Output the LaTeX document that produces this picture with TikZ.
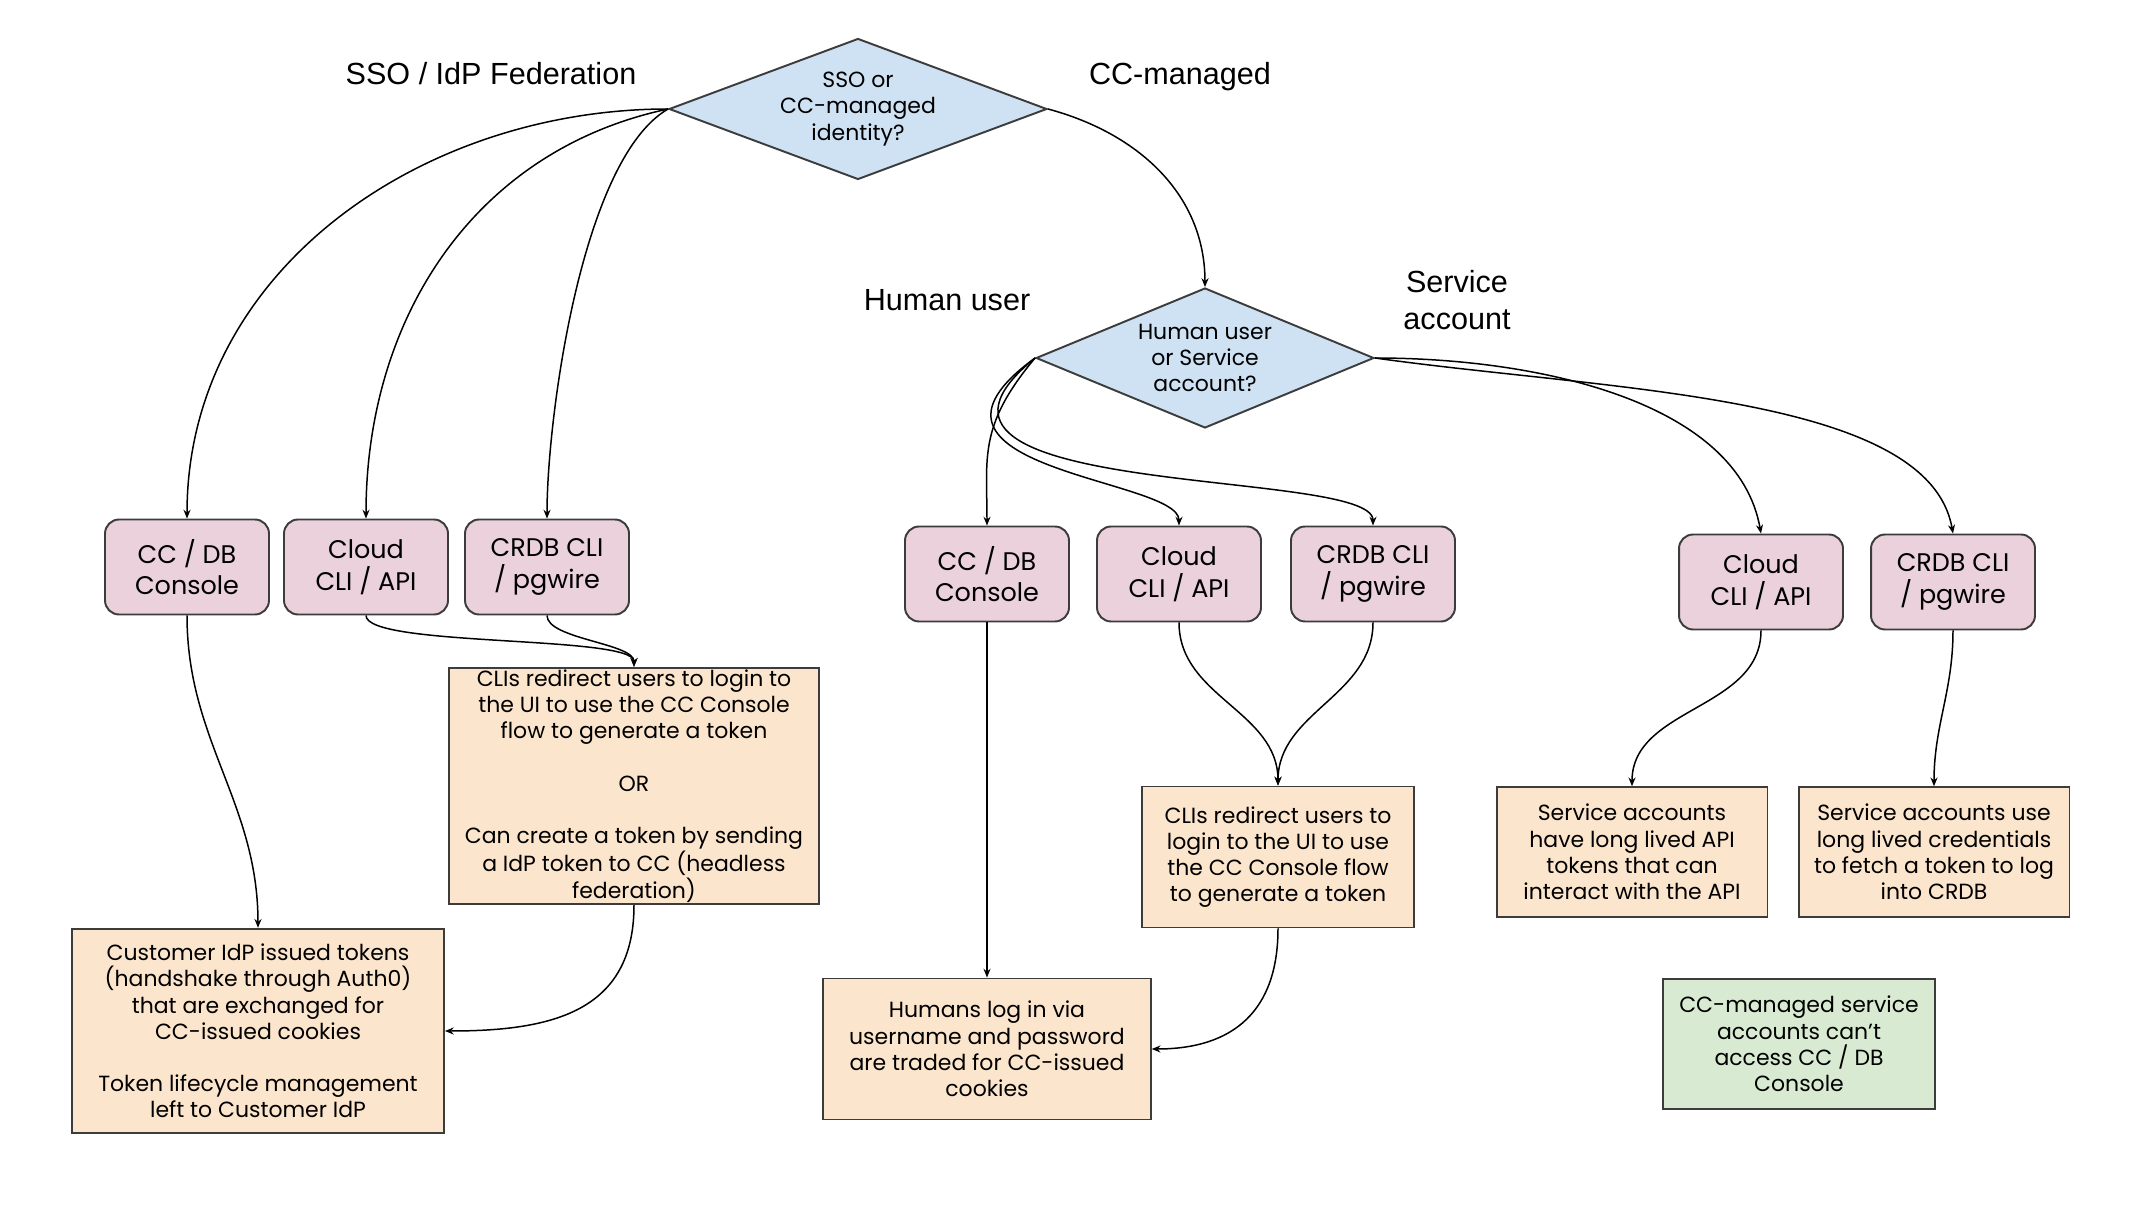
\documentclass[tikz,border=0pt]{standalone}
\usepackage{fontspec}
\setmainfont{Liberation Sans}
\newfontfamily\popfont{Poppins}
\usetikzlibrary{shapes.geometric,arrows.meta}
\definecolor{linegray}{HTML}{3C3C3C}
\definecolor{askblue}{HTML}{CFE2F3}
\definecolor{chanpink}{HTML}{EAD1DC}
\definecolor{flowtan}{HTML}{FCE5CD}
\definecolor{notegreen}{HTML}{D9EAD3}
\begin{document}
\begin{tikzpicture}[x = 0.02cm, y = 0.02cm, line width = 0.85pt,
                      >={Stealth[length=5pt, width=4pt]},
                      question/.style = {diamond, draw = linegray, fill = askblue, line width = 1.1pt, aspect = 2.7,
                                         inner sep = 0pt, align = center, font = \popfont\fontsize{12.5}{14.9}\selectfont},
                      channel/.style = {rectangle, rounded corners = 8pt, draw = linegray, fill = chanpink, line width = 1.1pt,
                                        minimum width = 3.28cm, minimum height = 1.9cm, align = center,
                                        font = \popfont\fontsize{14.5}{18}\selectfont},
                      flow/.style = {rectangle, draw = linegray, fill = flowtan, line width = 1.1pt, inner sep = 0pt,
                                     align = center, font = \popfont\fontsize{12.5}{14.9}\selectfont},
                      caveat/.style = {flow, fill = notegreen},
                      branch/.style = {align = center, font = \fontsize{17.4}{20.6}\selectfont}]
    \useasboundingbox [fill = white] (0, 0) rectangle (2134, -1212);

    \node [question, minimum width = 7.56cm, minimum height = 2.82cm] (d1) at (858, -109) {SSO or\\CC-managed\\identity?};
    \node [question, minimum width = 6.76cm, minimum height = 2.8cm] (d2) at (1205, -358) {Human user\\or Service\\account?};

    \node [branch] (l1) at (491, -74) {SSO / IdP Federation};
    \node [branch] (l2) at (1180, -77) {CC-managed};
    \node [branch] (l3) at (947, -300) {Human user};
    \node [branch] (l4) at (1457, -300) {Service\\account};

    \node [channel] (p1) at (187, -567) {CC / DB\\Console};
    \node [channel] (p2) at (366, -567) {Cloud\\CLI / API};
    \node [channel] (p3) at (547, -567) {CRDB CLI\\/ pgwire};
    \node [channel] (p4) at (987, -574) {CC / DB\\Console};
    \node [channel] (p5) at (1179, -574) {Cloud\\CLI / API};
    \node [channel] (p6) at (1373, -574) {CRDB CLI\\/ pgwire};
    \node [channel] (p7) at (1761, -582) {Cloud\\CLI / API};
    \node [channel] (p8) at (1953, -582) {CRDB CLI\\/ pgwire};

    \node [flow, minimum width = 7.4cm, minimum height = 4.73cm] (o1) at (634, -786)
        {CLIs redirect users to login to\\the UI to use the CC Console\\flow to generate a token\\[14.9pt]OR\\[14.9pt]Can create a token by sending\\a IdP token to CC (headless\\federation)};
    \node [flow, minimum width = 7.44cm, minimum height = 4.09cm] (o2) at (258, -1031)
        {Customer IdP issued tokens\\(handshake through Auth0)\\that are exchanged for\\CC-issued cookies\\[14.9pt]Token lifecycle management\\left to Customer IdP};
    \node [flow, minimum width = 6.55cm, minimum height = 2.82cm] (o3) at (987, -1049)
        {Humans log in via\\username and password\\are traded for CC-issued\\cookies};
    \node [flow, minimum width = 5.45cm, minimum height = 2.82cm] (o4) at (1278, -857)
        {CLIs redirect users to\\login to the UI to use\\the CC Console flow\\to generate a token};
    \node [flow, minimum width = 5.42cm, minimum height = 2.59cm] (o5) at (1632, -852)
        {Service accounts\\have long lived API\\tokens that can\\interact with the API};
    \node [flow, minimum width = 5.42cm, minimum height = 2.59cm] (o6) at (1934, -852)
        {Service accounts use\\long lived credentials\\to fetch a token to log\\into CRDB};
    \node [caveat, minimum width = 5.45cm, minimum height = 2.6cm] (g1) at (1799, -1044)
        {CC-managed service\\accounts can’t\\access CC / DB\\Console};

    \draw [->] (d1.west) to [out=180, in=90] (p1.north);
    \draw [->] (d1.west) to [out=192, in=90] (p2.north);
    \draw [->] (d1.west) to [out=210, in=90, looseness=0.6] (p3.north);
    \draw [->] (d1.east) to [out=-15, in=90] (d2.north);
    \draw [->] (d2.west) to [out=230, in=90, out looseness=1.3] (p4.north);
    \draw [->] (d2.west) to [out=216, in=90, out looseness=2.2, in looseness=0.55] (p5.north);
    \draw [->] (d2.west) to [out=219, in=90, out looseness=1.55, in looseness=0.4] (p6.north);
    \draw [->] (d2.east) to [out=0, in=100, in looseness=0.8] (p7.north);
    \draw [->] (d2.east) to [out=-8, in=100, in looseness=0.6] (p8.north);

    \draw [->] (p1.south) to [out=-90, in=90] (o2.north);
    \draw [->] (p2.south) to [out=-90, in=90, looseness=0.3] (o1.north);
    \draw [->] (p3.south) to [out=-90, in=90, looseness=0.6] (o1.north);
    \draw [->] (o1.south) to [out=-90, in=0, looseness=1.2] (o2.east);
    \draw [->] (p4.south) -- (o3.north);
    \draw [->] (p5.south) to [out=-90, in=90] (o4.north);
    \draw [->] (p6.south) to [out=-90, in=90] (o4.north);
    \draw [->] (o4.south) to [out=-90, in=0, looseness=1.2] (o3.east);
    \draw [->] (p7.south) to [out=-90, in=90] (o5.north);
    \draw [->] (p8.south) to [out=-90, in=90] (o6.north);
\end{tikzpicture}
\end{document}
